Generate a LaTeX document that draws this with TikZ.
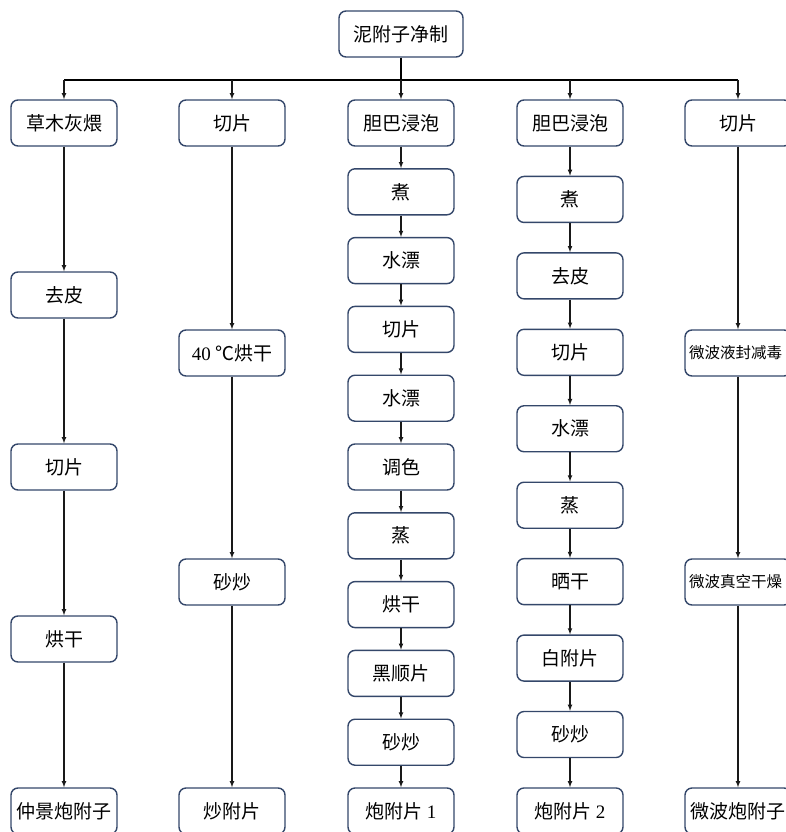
\documentclass[tikz,border=0pt]{standalone}
\usepackage{fontspec}
\setmainfont{Liberation Serif}
\newfontfamily\cjk{Noto Sans CJK SC}
\usetikzlibrary{arrows}
\definecolor{boxline}{HTML}{34476A}
\tikzset{
	stepbox/.style={draw=boxline, line width=1.4pt, rounded corners=7pt, fill=white,
		minimum width=106pt, minimum height=46pt, inner sep=3pt,
		font=\cjk\fontsize{19}{22}\selectfont},
	longtext/.style={text width=98pt, align=left, font=\cjk\fontsize{15.5}{20}\selectfont},
	flow/.style={draw=black!90, line width=1.1pt, -latex},
}

\begin{document}
\begin{tikzpicture}[x=1pt, y=-1pt]
				\useasboundingbox (0,0) rectangle (786,832);
				\node[stepbox, minimum width=124pt] (top) at (401,34) {泥附子净制};
				\coordinate (bus) at (401,80);
				% column 1
				\node[stepbox] (a1) at (64,123) {草木灰煨};
				\node[stepbox] (a2) at (64,295) {去皮};
				\node[stepbox] (a3) at (64,467) {切片};
				\node[stepbox] (a4) at (64,639) {烘干};
				\node[stepbox] (a5) at (64,811) {仲景炮附子};
				% column 2
				\node[stepbox] (b1) at (232,123) {切片};
				\node[stepbox] (b2) at (232,353) {{\rmfamily 40}\ ℃烘干};
				\node[stepbox] (b3) at (232,582) {砂炒};
				\node[stepbox] (b4) at (232,811) {炒附片};
				% column 3
				\foreach \t [count=\i] in {胆巴浸泡,煮,水漂,切片,水漂,调色,蒸,烘干,黑顺片,砂炒,炮附片~{\rmfamily 1}}
					\node[stepbox] (c\i) at (401,{123+68.8*(\i-1)}) {\t};
				% column 4
				\foreach \t [count=\i] in {胆巴浸泡,煮,去皮,切片,水漂,蒸,晒干,白附片,砂炒,炮附片~{\rmfamily 2}}
					\node[stepbox] (d\i) at (570,{123+76.44*(\i-1)}) {\t};
				% column 5
				\node[stepbox] (e1) at (738,123) {切片};
				\node[stepbox, longtext] (e2) at (738,353) {微波液封减毒};
				\node[stepbox, longtext] (e3) at (738,582) {微波真空干燥};
				\node[stepbox] (e4) at (738,811) {微波炮附子};
				% connectors
				\draw[line width=1.1pt] (top) -- (bus);
				\draw[line width=1.6pt] (a1.north |- bus) -- (e1.north |- bus);
				\foreach \n in {a1,b1,c1,d1,e1}
					\draw[flow] (\n.north |- bus) -- (\n);
				\foreach \i in {1,...,4} {
					\pgfmathtruncatemacro\j{\i+1}
					\draw[flow] (a\i) -- (a\j);
				}
				\foreach \i in {1,...,3} {
					\pgfmathtruncatemacro\j{\i+1}
					\draw[flow] (b\i) -- (b\j);
					\draw[flow] (e\i) -- (e\j);
				}
				\foreach \i in {1,...,10} {
					\pgfmathtruncatemacro\j{\i+1}
					\draw[flow] (c\i) -- (c\j);
				}
				\foreach \i in {1,...,9} {
					\pgfmathtruncatemacro\j{\i+1}
					\draw[flow] (d\i) -- (d\j);
				}
			\end{tikzpicture}
\end{document}
